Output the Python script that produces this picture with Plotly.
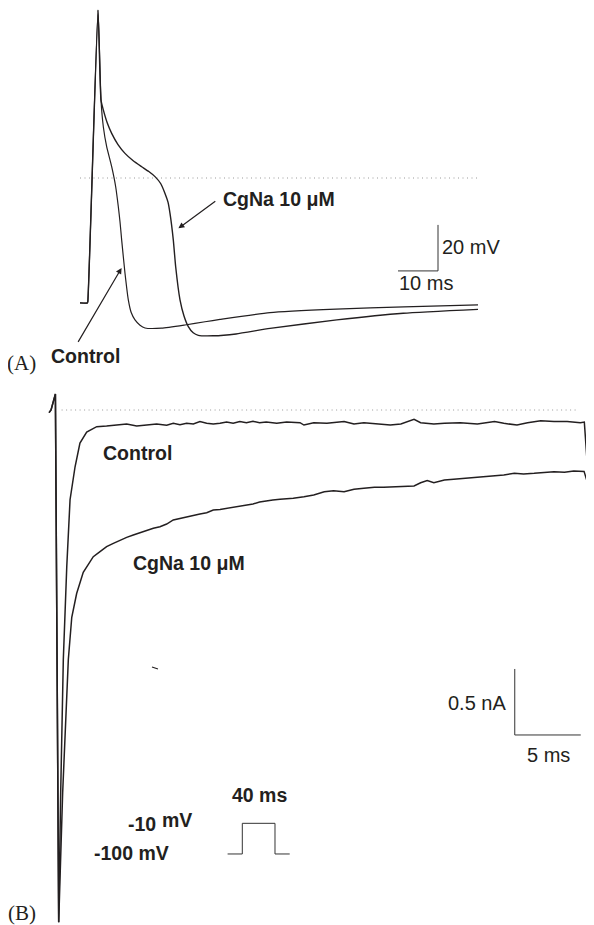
import plotly.graph_objects as go

# ---------------- Panel A: action potentials (time ms, membrane potential mV)
ap_control_t = [0, 1.85, 1.95, 4.5, 5.25, 5.83, 6.67, 7.92, 8.92, 9.58, 10.0, 10.42, 11.25,
                12.08, 12.8, 13.75, 15.0, 16.25, 20.4, 26.25, 31.25, 35, 47.5, 64, 81, 99.5]
ap_control_v = [-54.3, -54.3, -53.8, 73.0, 33.9, 22.3, 13.6, 4.9, -3.8, -12.5, -19.0, -27.0, -41.4,
                -53.0, -58.5, -61.7, -64.0, -65.2, -65.3, -63.9, -62.5, -61.5, -58.5, -57.0, -56.0, -55.2]

ap_cgna_t = [0, 1.85, 1.95, 4.5, 5.25, 5.83, 6.8, 7.92, 9.5, 11.25, 13.3, 15.42, 17.2, 18.75,
             20.2, 21.25, 22.0, 22.5, 23.33, 23.92, 25.0, 26.0, 27.08, 28.3, 29.58, 33.3, 39.0,
             47.5, 64.2, 80.8, 99.5]
ap_cgna_v = [-54.3, -54.3, -53.8, 73.0, 33.9, 29.6, 24.0, 19.4, 14.5, 10.7, 7.5, 4.9, 2.8, 0.6,
             -2.5, -6.7, -10.5, -15.4, -27.0, -38.6, -53.0, -60.0, -64.6, -67.3, -68.4, -68.6, -67.8,
             -65.4, -61.7, -58.8, -57.1]

# ---------------- Panel B: Na+ currents (time ms, current nA)
ina_control = [(-0.45, -0.02), (-0.3, 0.0), (0.03, 0.121), (0.13, -1.89), (0.2, -3.33), (0.28, -3.88),
               (0.43, -2.90), (0.63, -1.89), (0.89, -1.19), (1.14, -0.68), (1.52, -0.43), (1.89, -0.25),
               (2.40, -0.167), (3.16, -0.126), (3.91, -0.121), (4.67, -0.114), (5.43, -0.106),
               (6.19, -0.121), (6.94, -0.114), (7.70, -0.106), (8.46, -0.116), (8.96, -0.101),
               (9.47, -0.111), (9.97, -0.101), (10.48, -0.106), (10.98, -0.088), (11.49, -0.101),
               (11.99, -0.106), (12.5, -0.101), (13.0, -0.091), (13.5, -0.101), (14.0, -0.088),
               (14.5, -0.096), (15.0, -0.086), (15.5, -0.096), (16.0, -0.091), (16.8, -0.101),
               (17.55, -0.091), (18.56, -0.096), (18.86, -0.114), (19.6, -0.096), (20.6, -0.101),
               (21.9, -0.088), (22.65, -0.106), (23.4, -0.096), (24.4, -0.106), (25.4, -0.114),
               (26.2, -0.106), (27.2, -0.071), (27.7, -0.096), (28.7, -0.106), (29.5, -0.101),
               (30.7, -0.096), (32.0, -0.106), (33.3, -0.088), (34.0, -0.101), (35.0, -0.114),
               (35.8, -0.096), (36.8, -0.081), (37.8, -0.088), (38.8, -0.088), (39.8, -0.096),
               (40.1, -0.091), (40.33, -0.417), (40.58, -0.202), (40.83, -0.139)]

ina_cgna = [(-0.45, -0.02), (-0.3, 0.0), (0.03, 0.121), (0.13, -1.89), (0.2, -3.33), (0.28, -3.88),
            (0.58, -2.90), (1.01, -1.89), (1.27, -1.57), (1.64, -1.39), (2.14, -1.23), (2.90, -1.111),
            (3.41, -1.073), (3.91, -1.035), (4.42, -1.010), (4.92, -0.985), (5.43, -0.965),
            (5.93, -0.947), (6.44, -0.929), (6.94, -0.914), (7.45, -0.896), (7.95, -0.884),
            (8.46, -0.864), (8.96, -0.833), (9.47, -0.821), (9.97, -0.808), (10.48, -0.795),
            (10.98, -0.788), (11.49, -0.778), (11.99, -0.758), (12.5, -0.753), (13.0, -0.745),
            (13.5, -0.737), (14.0, -0.727), (14.5, -0.720), (15.0, -0.712), (15.5, -0.697),
            (16.0, -0.687), (16.5, -0.682), (17.05, -0.677), (17.55, -0.674), (18.05, -0.669),
            (18.86, -0.657), (19.6, -0.644), (20.4, -0.619), (21.1, -0.611), (21.9, -0.619),
            (22.65, -0.601), (23.4, -0.593), (24.2, -0.586), (24.9, -0.586), (25.7, -0.581),
            (26.4, -0.576), (27.2, -0.576), (27.7, -0.551), (28.2, -0.535), (28.7, -0.551),
            (29.5, -0.530), (30.2, -0.525), (31.0, -0.518), (31.7, -0.510), (32.5, -0.505),
            (33.3, -0.500), (34.0, -0.492), (34.8, -0.480), (35.5, -0.485), (36.3, -0.480),
            (37.0, -0.475), (37.8, -0.467), (38.6, -0.472), (39.3, -0.462), (40.08, -0.465),
            (40.28, -0.53), (40.38, -0.644), (40.5, -0.30), (40.6, -0.2)]

stray_t = [7.35, 7.80]
stray_i = [-1.947, -1.962]

# voltage protocol (inset)
protocol_t = [-18, 0, 0, 40, 40, 58]
protocol_v = [-100, -100, -10, -10, -100, -100]

# scale bars
scaleA_ms, scaleA_mv = 10, 20
scaleB_ms, scaleB_na = 5, 0.5

INK = "#231f20"
SANS = "Liberation Sans, Arial, Helvetica, sans-serif"
SERIF = "Liberation Serif, Times New Roman, serif"

# figure size (page has an 8px body margin)
W = 586.0
H = 917.0
splitA = (H - 372) / H

fig = go.Figure()

# Panel A traces
fig.add_trace(go.Scatter(x=[0, 99.5], y=[0, 0], mode="lines", xaxis="x", yaxis="y",
                         line=dict(color="#9a9a9a", width=1, dash="1px,3.5px")))
fig.add_trace(go.Scatter(x=ap_control_t, y=ap_control_v, mode="lines", xaxis="x", yaxis="y",
                         line=dict(color=INK, width=1.2, shape="spline", smoothing=0.5)))
fig.add_trace(go.Scatter(x=ap_cgna_t, y=ap_cgna_v, mode="lines", xaxis="x", yaxis="y",
                         line=dict(color=INK, width=1.4, shape="spline", smoothing=0.5)))
# scale bar A
a0t, a0v = 89.5, -40.4
fig.add_trace(go.Scatter(x=[a0t - scaleA_ms, a0t, a0t], y=[a0v, a0v, a0v + scaleA_mv], mode="lines",
                         xaxis="x", yaxis="y", line=dict(color="#333333", width=1)))

# Panel B traces
fig.add_trace(go.Scatter(x=[0.5, 39.7], y=[0, 0], mode="lines", xaxis="x2", yaxis="y2",
                         line=dict(color="#9a9a9a", width=1, dash="1px,3.5px")))
ct, ci = zip(*ina_control)
gt, gi = zip(*ina_cgna)
fig.add_trace(go.Scatter(x=list(gt), y=list(gi), mode="lines", xaxis="x2", yaxis="y2",
                         line=dict(color=INK, width=1.5)))
fig.add_trace(go.Scatter(x=list(ct), y=list(ci), mode="lines", xaxis="x2", yaxis="y2",
                         line=dict(color=INK, width=1.5)))
fig.add_trace(go.Scatter(x=stray_t, y=stray_i, mode="lines", xaxis="x2", yaxis="y2",
                         line=dict(color=INK, width=1.2)))
b0t, b0i = 34.83, -2.462
fig.add_trace(go.Scatter(x=[b0t, b0t, b0t + scaleB_ms], y=[b0i + scaleB_na, b0i, b0i], mode="lines",
                         xaxis="x2", yaxis="y2", line=dict(color="#333333", width=1)))

# protocol inset
fig.add_trace(go.Scatter(x=protocol_t, y=protocol_v, mode="lines", xaxis="x3", yaxis="y3",
                         line=dict(color="#333333", width=1)))


def ax(rng, dom):
    return dict(range=rng, domain=dom, visible=False, showgrid=False, zeroline=False, fixedrange=True)


def note(text, x, y, xref, yref, size=19.5, bold=True, xanchor="left", family=SANS, xshift=0):
    t = f"<b>{text}</b>" if bold else text
    return dict(text=t, x=x, y=y, xref=xref, yref=yref, showarrow=False, xanchor=xanchor,
                yanchor="middle", xshift=xshift, font=dict(family=family, size=size, color=INK))


annotations = [
    # panel A
    note("CgNa 10 μM", 35.2, -9.3, "x", "y"),
    note("Control", -7.7, -77.6, "x", "y"),
    note("20 mV", 89.9, -30.0, "x", "y", size=20, bold=False),
    note("10 ms", 79.2, -45.7, "x", "y", size=20, bold=False),
    note("(A)", 0, -80.4, "paper", "y", size=21, bold=False, family=SERIF, xshift=-3),
    dict(x=24.6, y=-21.9, ax=34.2, ay=-9.6, xref="x", yref="y", axref="x", ayref="y",
         showarrow=True, arrowhead=2, arrowsize=1, arrowwidth=1.2, arrowcolor=INK, text=""),
    dict(x=10.4, y=-39.1, ax=-0.68, ay=-71.9, xref="x", yref="y", axref="x", ayref="y",
         showarrow=True, arrowhead=2, arrowsize=1, arrowwidth=1.2, arrowcolor=INK, text=""),
    # panel B
    note("Control", 3.45, -0.326, "x2", "y2"),
    note("CgNa 10 μM", 5.75, -1.159, "x2", "y2"),
    note("0.5 nA", 34.3, -2.22, "x2", "y2", size=20, bold=False, xanchor="right"),
    note("5 ms", 35.6, -2.614, "x2", "y2", size=20, bold=False),
    note("40 ms", 15.49, -2.917, "x2", "y2", xanchor="center"),
    note("-10", 5.4, -3.137, "x2", "y2"),
    note("mV", 7.95, -3.103, "x2", "y2"),
    note("-100 mV", 2.8, -3.356, "x2", "y2"),
    note("(B)", 0, -3.81, "paper", "y2", size=21, bold=False, family=SERIF, xshift=-2),
]

fig.update_layout(
    width=W, height=H,
    margin=dict(l=0, r=0, t=0, b=0),
    paper_bgcolor="white", plot_bgcolor="rgba(0,0,0,0)",
    showlegend=False,
    xaxis=ax([-18, 128.5], [0, 1]),
    yaxis=ax([(170 - 372) / 2.3, 170 / 2.3], [splitA, 1]),
    xaxis2=ax([-47 / 13.2, 539 / 13.2], [0, 1]),
    yaxis2=ax([(402 - 917) / 132, 30 / 132], [0, splitA]),
    xaxis3=ax([-30, 70], [209.8 / W, 291.5 / W]),
    yaxis3=ax([-130, 20], [(H - 856.2) / H, (H - 805.1) / H]),
    annotations=annotations,
)

fig.write_html("out.html")
